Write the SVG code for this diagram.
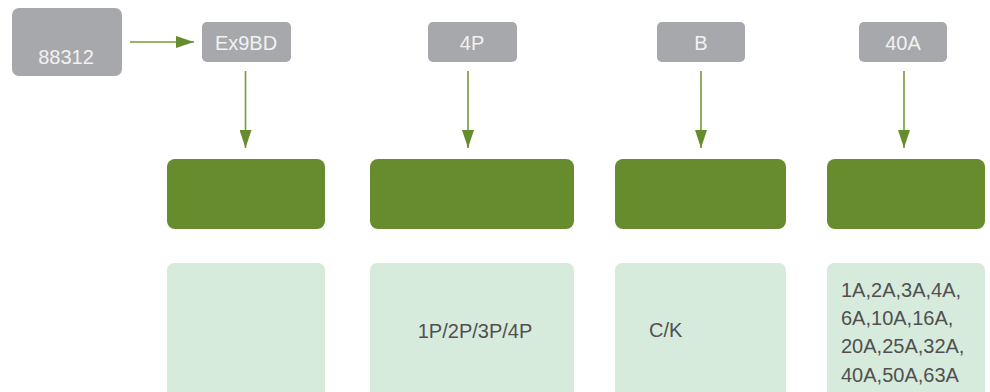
<svg xmlns="http://www.w3.org/2000/svg" width="990" height="392" viewBox="0 0 990 392">
  <style>
    .g{fill:#a7a8ab}
    .gt{fill:#f2f2f2;font-family:"Liberation Sans",Arial,sans-serif;font-size:20px;text-anchor:middle}
    .dk{fill:#678c2e}
    .lt{fill:#d7ebdd}
    .lx{fill:#505050;font-family:"Liberation Sans",Arial,sans-serif;font-size:20px}
    .ln{stroke:#76983a;stroke-width:1.6;fill:none}
  </style>
  <defs>
    <marker id="ah" markerUnits="userSpaceOnUse" markerWidth="18" markerHeight="12" refX="18" refY="6" orient="auto">
      <path d="M0,0 L18,6 L0,12 Z" fill="#678c2e"/>
    </marker>
  </defs>
  <rect width="990" height="392" fill="#ffffff"/>
  <g id="n88312"><rect class="g" x="12" y="8" width="110" height="68" rx="7"/><text class="gt" x="66" y="64">88312</text></g>
  <g id="nEx9BD"><rect class="g" x="202" y="22" width="89" height="40" rx="5"/><text class="gt" x="246" y="50">Ex9BD</text></g>
  <g id="n4P"><rect class="g" x="428" y="22" width="89" height="40" rx="5"/><text class="gt" x="472" y="50">4P</text></g>
  <g id="nB"><rect class="g" x="657" y="22" width="88" height="40" rx="5"/><text class="gt" x="701" y="50">B</text></g>
  <g id="n40A"><rect class="g" x="859" y="22" width="88" height="40" rx="5"/><text class="gt" x="903" y="50">40A</text></g>

  <g id="h1"><rect class="dk" x="167" y="159" width="158" height="70" rx="8"/></g>
  <g id="h2"><rect class="dk" x="370" y="159" width="204" height="70" rx="8"/></g>
  <g id="h3"><rect class="dk" x="615" y="159" width="171" height="70" rx="8"/></g>
  <g id="h4"><rect class="dk" x="827" y="159" width="158" height="70" rx="8"/></g>

  <g id="d1"><rect class="lt" x="167" y="263" width="158" height="140" rx="7"/></g>
  <g id="d2"><rect class="lt" x="370" y="263" width="204" height="140" rx="7"/><text class="lx" x="475" y="338" text-anchor="middle">1P/2P/3P/4P</text></g>
  <g id="d3"><rect class="lt" x="615" y="263" width="171" height="140" rx="7"/><text class="lx" x="649" y="337">C/K</text></g>
  <g id="d4"><rect class="lt" x="827" y="263" width="158" height="140" rx="7"/>
    <text class="lx" x="841" y="297">1A,2A,3A,4A,</text>
    <text class="lx" x="841" y="325">6A,10A,16A,</text>
    <text class="lx" x="841" y="353">20A,25A,32A,</text>
    <text class="lx" x="841" y="382">40A,50A,63A</text>
  </g>

  <g id="connectors">
    <line class="ln" x1="130" y1="42" x2="194" y2="42" marker-end="url(#ah)"/>
    <line class="ln" x1="245.5" y1="71" x2="245.5" y2="148" marker-end="url(#ah)"/>
    <line class="ln" x1="468" y1="71" x2="468" y2="148" marker-end="url(#ah)"/>
    <line class="ln" x1="701" y1="71" x2="701" y2="148" marker-end="url(#ah)"/>
    <line class="ln" x1="904" y1="71" x2="904" y2="148" marker-end="url(#ah)"/>
  </g>
</svg>
